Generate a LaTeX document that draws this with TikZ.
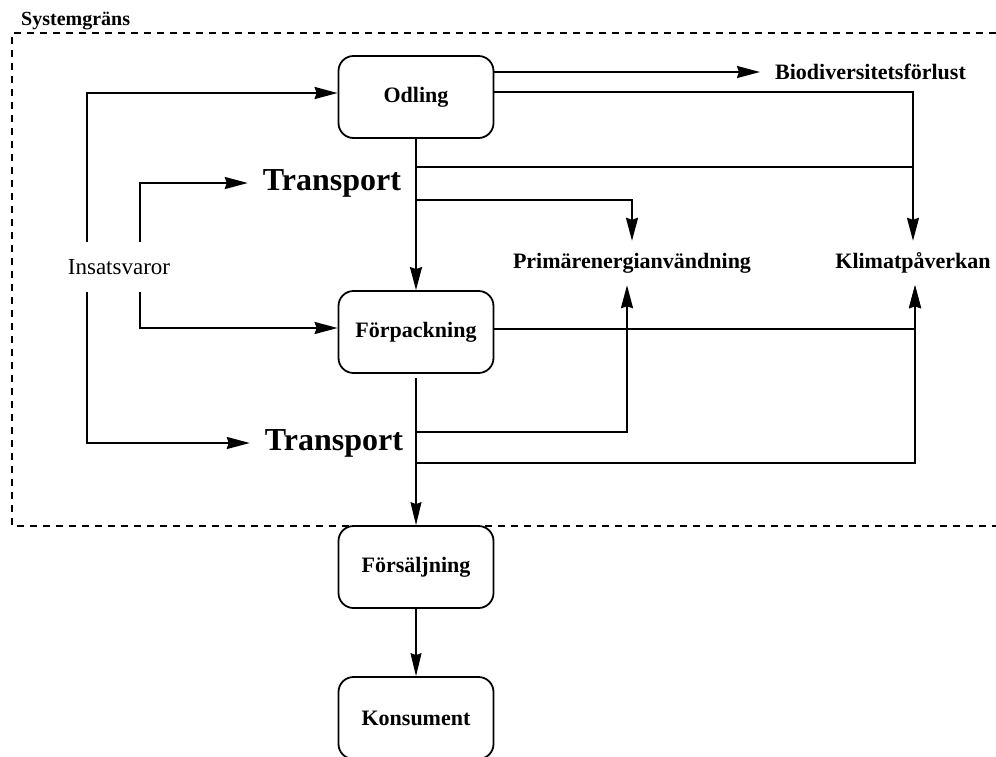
\documentclass[tikz,border=0pt]{standalone}
\usepackage{fontspec}
\setmainfont{Liberation Serif}
\usetikzlibrary{arrows.meta}
\begin{document}
\begin{tikzpicture}[x=1pt,y=-1pt,
        box/.style={draw,line width=1.8pt,rounded corners=15pt,minimum width=155pt,minimum height=82pt,font=\fontsize{22}{26}\selectfont\bfseries},
        effect/.style={minimum height=44pt,inner xsep=0pt,font=\fontsize{22}{26}\selectfont\bfseries},
        trp/.style={inner xsep=15pt,font=\fontsize{32}{36}\selectfont\bfseries},
        link/.style={line width=2pt},
        flow/.style={line width=2pt,-{Stealth[length=23pt,width=12pt,inset=2pt]}},
        weak/.style={line width=1.3pt,-{Stealth[length=23pt,width=11pt,inset=2pt]}}]
        \useasboundingbox (0,0) rectangle (996,756);
        \draw[line width=2pt,dash pattern=on 7pt off 6pt] (996,33) -- (12,33) -- (12,526) -- (996,526);
        \node[anchor=base west,inner sep=0pt,font=\fontsize{20}{24}\selectfont\bfseries] (sysgrans) at (21,25) {Systemgräns};
        \node[box] (odling) at (416,97) {Odling};
        \node[box] (forp) at (416,332) {Förpackning};
        \node[box] (fors) at (416,567) {Försäljning};
        \node[box] (kons) at (416,718) {Konsument};
        \node[trp] (trp1) at (332,183) {Transport};
        \node[trp] (trp2) at (334,443) {Transport};
        \node[minimum height=50pt,inner xsep=0pt,font=\fontsize{23}{27}\selectfont] (insats) at (119,267) {Insatsvaror};
        \node[effect,anchor=west,inner xsep=15pt] (bio) at (760,72) {Biodiversitetsförlust};
        \node[effect] (primar) at (632,263) {Primärenergianvändning};
        \node[effect] (klimat) at (913,263) {Klimatpåverkan};
        \coordinate (tr1a) at (416,167);
        \coordinate (tr1b) at (416,200);
        \coordinate (tr2a) at (416,432);
        \coordinate (tr2b) at (416,463);
        \draw[flow] ([xshift=-32pt]insats.north) |- ([yshift=4pt]odling.west);
        \draw[flow] ([xshift=21pt]insats.north) |- (trp1.west);
        \draw[flow] ([xshift=-32pt]insats.south) |- (trp2.west);
        \draw[flow] ([xshift=21pt]insats.south) |- ([yshift=4pt]forp.west);
        \draw[flow] (odling.east |- bio.west) -- (bio.west);
        \draw[flow] ([yshift=5pt]odling.east) -| (klimat.north);
        \draw[flow] (odling.south) -- (forp.north);
        \draw[link] (tr1a) -- (tr1a -| klimat.north);
        \draw[flow] (tr1b) -| (primar.north);
        \draw[flow] ([yshift=3pt]forp.east) -| ([xshift=2pt]klimat.south);
        \draw[weak] ([yshift=-4pt]forp.south) -- (fors.north);
        \draw[flow] (tr2a) -| ([xshift=-5pt]primar.south);
        \draw[flow] (tr2b) -| ([xshift=2pt]klimat.south);
        \draw[weak] (fors.south) -- (kons.north);
\end{tikzpicture}
\end{document}
